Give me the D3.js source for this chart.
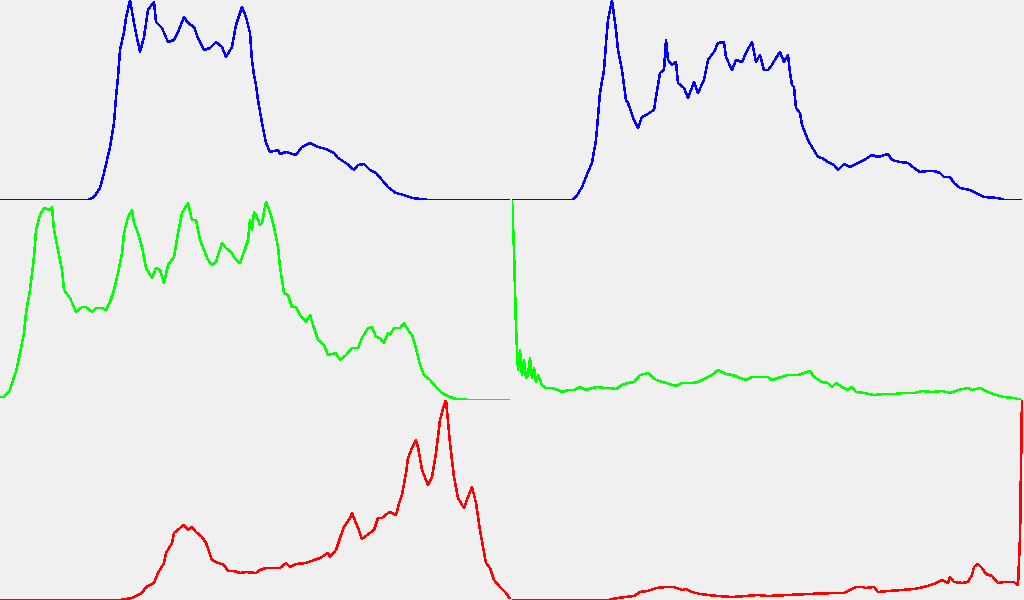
<!DOCTYPE html>
<html>
<head>
<meta charset="utf-8">
<script src="https://cdn.jsdelivr.net/npm/d3@7"></script>
<style>
  html, body { margin: 0; padding: 0; background: #f0f0f0; }
  svg { display: block; }
</style>
</head>
<body>
<div id="chart"></div>
<script>
// histogram readings: [bin, count scaled so the tallest bin = 200]
const blueLeft = [
  [0,0],[44,0],[47,3],[50,12],[52,27],[55,53],[57,77],[58,103],[59,123],[60,150],[62,168],[63,182],
  [65,200],[67,177],[68,167],[70,148],[72,163],[74,190],[77,198],[78,178],[81,172],[84,158],[87,160],
  [89,168],[92,183],[94,177],[97,173],[99,162],[102,150],[105,152],[108,158],[111,153],[113,143],
  [116,153],[118,175],[121,193],[123,183],[125,167],[126,140],[127,125],[128,115],[129,100],[131,77],
  [133,57],[135,48],[139,50],[140,46],[143,48],[148,45],[151,53],[155,57],[159,53],[163,51],[167,47],
  [169,42],[173,37],[177,30],[179,35],[182,36],[185,30],[188,27],[191,20],[194,13],[198,7],[202,5],
  [206,2],[214,0],[255,0]
];

const blueRight = [
  [0,0],[30,0],[32,3],[35,13],[37,23],[40,37],[42,60],[43,83],[44,107],[46,130],[47,157],[48,180],
  [50,200],[52,170],[53,150],[55,130],[57,100],[58,97],[61,80],[63,72],[65,83],[67,85],[71,90],
  [72,103],[74,127],[76,130],[77,160],[78,140],[80,135],[82,138],[83,117],[86,112],[88,102],[91,118],
  [93,107],[96,120],[98,140],[101,148],[103,157],[106,158],[107,143],[110,130],[112,140],[115,138],
  [117,147],[120,158],[122,138],[124,145],[126,130],[128,130],[130,135],[132,142],[134,148],[136,138],
  [138,145],[139,127],[140,115],[141,113],[142,92],[144,87],[145,75],[148,60],[150,53],[153,43],
  [155,42],[158,38],[161,35],[163,30],[166,36],[169,33],[173,37],[176,40],[180,45],[183,43],[188,46],
  [190,40],[194,38],[198,37],[201,32],[204,28],[208,29],[211,29],[214,27],[216,23],[219,23],[221,17],
  [224,12],[229,10],[232,7],[236,3],[243,2],[246,0],[255,0]
];

const greenLeft = [
  [0,3],[2,3],[5,10],[7,23],[8,28],[10,47],[12,67],[13,87],[15,110],[17,143],[18,170],[20,185],
  [22,192],[25,190],[26,193],[27,170],[29,150],[31,130],[32,110],[35,102],[38,88],[41,93],[43,93],
  [46,88],[48,92],[51,92],[53,90],[55,98],[57,110],[59,127],[61,147],[62,167],[64,183],[66,190],
  [67,177],[69,167],[71,153],[73,132],[76,122],[78,132],[80,130],[82,117],[84,135],[87,143],[89,167],
  [91,187],[94,197],[96,180],[98,180],[100,160],[102,150],[104,140],[106,135],[108,138],[111,157],
  [113,152],[116,147],[118,140],[120,137],[122,148],[124,160],[125,180],[126,170],[127,188],[128,185],
  [130,175],[131,177],[133,198],[135,188],[137,173],[139,153],[140,133],[142,107],[144,105],[146,93],
  [148,93],[150,85],[153,78],[155,85],[157,72],[159,60],[162,55],[164,45],[168,47],[170,40],[173,45],
  [176,52],[179,52],[181,62],[184,72],[186,73],[188,63],[190,62],[192,57],[194,67],[195,65],[197,72],
  [200,72],[202,77],[204,70],[206,65],[208,52],[210,35],[212,25],[215,20],[218,13],[221,7],[225,3],
  [228,1],[235,0],[255,0]
];

const greenRight = [
  [0,200],[1,150],[2,73],[3,30],[4,50],[5,25],[6,40],[7,22],[8,25],[9,42],[10,22],[11,32],[12,18],
  [13,25],[15,15],[17,12],[20,12],[23,10],[25,8],[28,10],[31,10],[34,13],[37,10],[40,12],[43,13],
  [46,12],[49,12],[52,11],[55,15],[58,17],[61,18],[64,25],[68,27],[72,20],[77,17],[82,14],[85,17],
  [90,17],[93,18],[97,22],[100,25],[103,30],[107,26],[110,25],[113,23],[117,20],[120,23],[125,23],
  [128,23],[130,20],[133,22],[138,25],[143,25],[146,27],[149,29],[151,23],[155,18],[158,17],[160,13],
  [162,17],[165,13],[168,10],[170,13],[172,8],[176,7],[181,5],[186,6],[191,6],[196,7],[201,7],[205,9],
  [210,8],[215,9],[219,7],[223,10],[228,12],[230,10],[234,12],[238,8],[242,5],[246,3],[251,2],[255,0]
];

const redLeft = [
  [0,0],[60,0],[66,2],[68,4],[71,7],[73,13],[77,17],[79,27],[82,37],[83,47],[86,57],[87,67],[90,72],
  [92,75],[94,70],[96,73],[98,68],[101,63],[103,57],[106,40],[108,38],[112,35],[114,29],[117,29],
  [120,27],[123,28],[128,27],[130,30],[133,32],[136,32],[140,32],[143,37],[145,33],[148,36],[153,37],
  [157,40],[160,42],[164,47],[165,43],[168,50],[170,62],[172,73],[175,82],[176,87],[179,72],[181,61],
  [185,67],[187,70],[189,82],[191,82],[194,87],[195,88],[198,85],[200,100],[201,105],[203,127],
  [204,142],[206,152],[208,160],[209,153],[211,130],[214,115],[216,123],[218,147],[220,180],[222,195],
  [223,200],[225,157],[227,123],[229,102],[232,92],[234,103],[236,113],[238,97],[240,70],[243,37],
  [245,32],[247,20],[250,13],[253,7],[255,1]
];

const redRight = [
  [0,0],[48,0],[50,1],[53,2],[57,3],[61,4],[64,8],[68,9],[72,12],[77,13],[81,13],[85,10],[87,11],
  [90,8],[94,6],[98,5],[103,4],[110,3],[117,4],[123,5],[128,4],[138,5],[148,6],[161,7],[166,7],
  [172,13],[175,13],[177,12],[181,13],[183,8],[188,9],[195,10],[201,11],[206,13],[211,16],[215,20],
  [218,17],[219,23],[221,18],[225,17],[228,18],[230,25],[231,33],[233,36],[235,32],[237,26],[240,24],
  [243,17],[246,18],[251,18],[253,15],[254,62],[255,200]
];

const panelColors = ['#0000ff', '#00ff00', '#ff0000'];

const width = 1024, height = 600,
      panelW = 512, panelH = 200;

const panels = [
  { data: blueLeft,   color: panelColors[0], col: 0, row: 0 },
  { data: blueRight,  color: panelColors[0], col: 1, row: 0 },
  { data: greenLeft,  color: panelColors[1], col: 0, row: 1 },
  { data: greenRight, color: panelColors[1], col: 1, row: 1 },
  { data: redLeft,    color: panelColors[2], col: 0, row: 2 },
  { data: redRight,   color: panelColors[2], col: 1, row: 2 }
];

const svg = d3.select('#chart')
  .append('svg')
  .attr('width', width)
  .attr('height', height);

svg.append('rect')
  .attr('width', width)
  .attr('height', height)
  .attr('fill', '#f0f0f0');

const x = d3.scaleLinear().domain([0, 256]).range([0, panelW]);
const y = d3.scaleLinear().domain([0, 200]).range([panelH, 0]);

const line = d3.line()
  .x(d => x(d[0]))
  .y(d => y(d[1]));

svg.append('defs')
  .append('clipPath')
  .attr('id', 'panelClip')
  .append('rect')
  .attr('width', panelW)
  .attr('height', panelH);

const g = svg.selectAll('g.panel')
  .data(panels)
  .enter()
  .append('g')
  .attr('class', 'panel')
  .attr('transform', d => 'translate(' + d.col * panelW + ',' + d.row * panelH + ')')
  .attr('clip-path', 'url(#panelClip)');

g.append('path')
  .attr('d', d => line(d.data))
  .attr('fill', 'none')
  .attr('stroke', d => d.color)
  .attr('stroke-width', 2.6)
  .attr('stroke-linejoin', 'round')
  .attr('shape-rendering', 'crispEdges');
</script>
</body>
</html>
